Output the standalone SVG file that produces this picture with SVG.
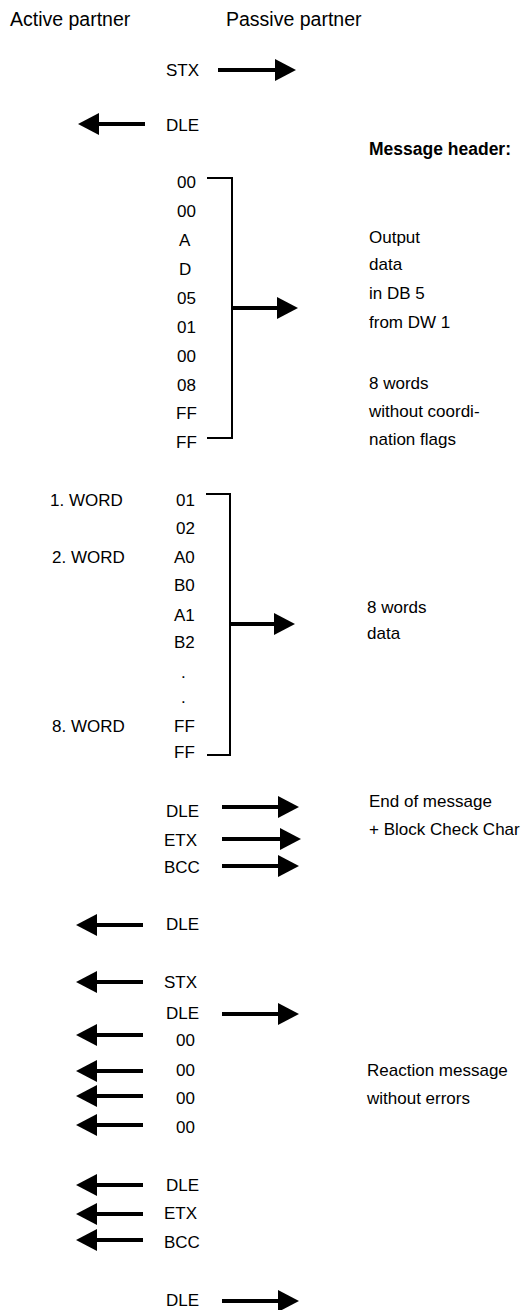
<svg xmlns="http://www.w3.org/2000/svg" width="527" height="1310" viewBox="0 0 527 1310">
<style>
text{font-family:"Liberation Sans",Arial,sans-serif;font-size:17px;fill:#000}
.h{font-size:19.5px}
.b{font-weight:bold;font-size:17.5px}
.arr{stroke:#000;stroke-width:4;fill:none;marker-end:url(#ah)}
.br{stroke:#000;stroke-width:2;fill:none}
</style>
<defs>
<marker id="ah" markerUnits="userSpaceOnUse" markerWidth="22" markerHeight="22" refX="0" refY="11" orient="auto">
<path d="M0,0 L21,11 L0,22 z" fill="#000"/>
</marker>
</defs>
<rect width="527" height="1310" fill="#fff"/>
<g id="headers">
<text class="h" x="10" y="26">Active partner</text>
<text class="h" x="226" y="26">Passive partner</text>
</g>
<g id="handshake">
<text x="166" y="76">STX</text>
<text x="166" y="131">DLE</text>
</g>
<g id="header-bytes">
<text x="177" y="188">00</text>
<text x="177" y="217">00</text>
<text x="179" y="246">A</text>
<text x="179" y="275">D</text>
<text x="177" y="304">05</text>
<text x="177" y="333">01</text>
<text x="177" y="362">00</text>
<text x="177" y="391">08</text>
<text x="176" y="419">FF</text>
<text x="176" y="448">FF</text>
</g>
<g id="header-notes">
<text class="b" x="369" y="155">Message header:</text>
<text x="369" y="243">Output</text>
<text x="369" y="270">data</text>
<text x="369" y="299">in DB 5</text>
<text x="369" y="328">from DW 1</text>
<text x="369" y="389">8 words</text>
<text x="369" y="417">without coordi-</text>
<text x="369" y="445">nation flags</text>
</g>
<g id="data-bytes">
<text x="50" y="506">1. WORD</text>
<text x="52" y="563">2. WORD</text>
<text x="52" y="732">8. WORD</text>
<text x="176" y="506">01</text>
<text x="176" y="534">02</text>
<text x="174" y="563">A0</text>
<text x="174" y="591">B0</text>
<text x="174" y="621">A1</text>
<text x="174" y="648">B2</text>
<text x="181" y="678">.</text>
<text x="181" y="703">.</text>
<text x="174" y="732">FF</text>
<text x="174" y="758">FF</text>
</g>
<g id="data-notes">
<text x="367" y="613">8 words</text>
<text x="367" y="639">data</text>
</g>
<g id="end-of-message">
<text x="166" y="817">DLE</text>
<text x="164" y="846">ETX</text>
<text x="164" y="873">BCC</text>
<text x="369" y="807">End of message</text>
<text x="369" y="835">+ Block Check Char</text>
<text x="166" y="930">DLE</text>
</g>
<g id="reaction">
<text x="164" y="988">STX</text>
<text x="166" y="1019">DLE</text>
<text x="176" y="1046">00</text>
<text x="176" y="1076">00</text>
<text x="176" y="1104">00</text>
<text x="176" y="1133">00</text>
<text x="367" y="1076">Reaction message</text>
<text x="367" y="1104">without errors</text>
<text x="166" y="1191">DLE</text>
<text x="164" y="1219">ETX</text>
<text x="164" y="1248">BCC</text>
<text x="166" y="1306">DLE</text>
</g>
<g id="connectors">
<path class="br" d="M207,178 H232 V438 H207"/>
<path class="br" d="M206,494 H230 V755 H207"/>
<line class="arr" x1="218" y1="70" x2="275" y2="70"/>
<line class="arr" x1="145" y1="124" x2="99" y2="124"/>
<line class="arr" x1="232" y1="308" x2="277" y2="308"/>
<line class="arr" x1="230" y1="624" x2="274" y2="624"/>
<line class="arr" x1="222" y1="807" x2="278" y2="807"/>
<line class="arr" x1="222" y1="839" x2="280" y2="839"/>
<line class="arr" x1="222" y1="866" x2="278" y2="866"/>
<line class="arr" x1="143" y1="925" x2="97" y2="925"/>
<line class="arr" x1="143" y1="982" x2="97" y2="982"/>
<line class="arr" x1="222" y1="1014" x2="278" y2="1014"/>
<line class="arr" x1="143" y1="1035" x2="97" y2="1035"/>
<line class="arr" x1="143" y1="1071" x2="97" y2="1071"/>
<line class="arr" x1="143" y1="1096" x2="97" y2="1096"/>
<line class="arr" x1="143" y1="1125" x2="97" y2="1125"/>
<line class="arr" x1="143" y1="1185" x2="97" y2="1185"/>
<line class="arr" x1="143" y1="1214" x2="97" y2="1214"/>
<line class="arr" x1="143" y1="1240" x2="97" y2="1240"/>
<line class="arr" x1="222" y1="1301" x2="278" y2="1301"/>
</g>
</svg>
